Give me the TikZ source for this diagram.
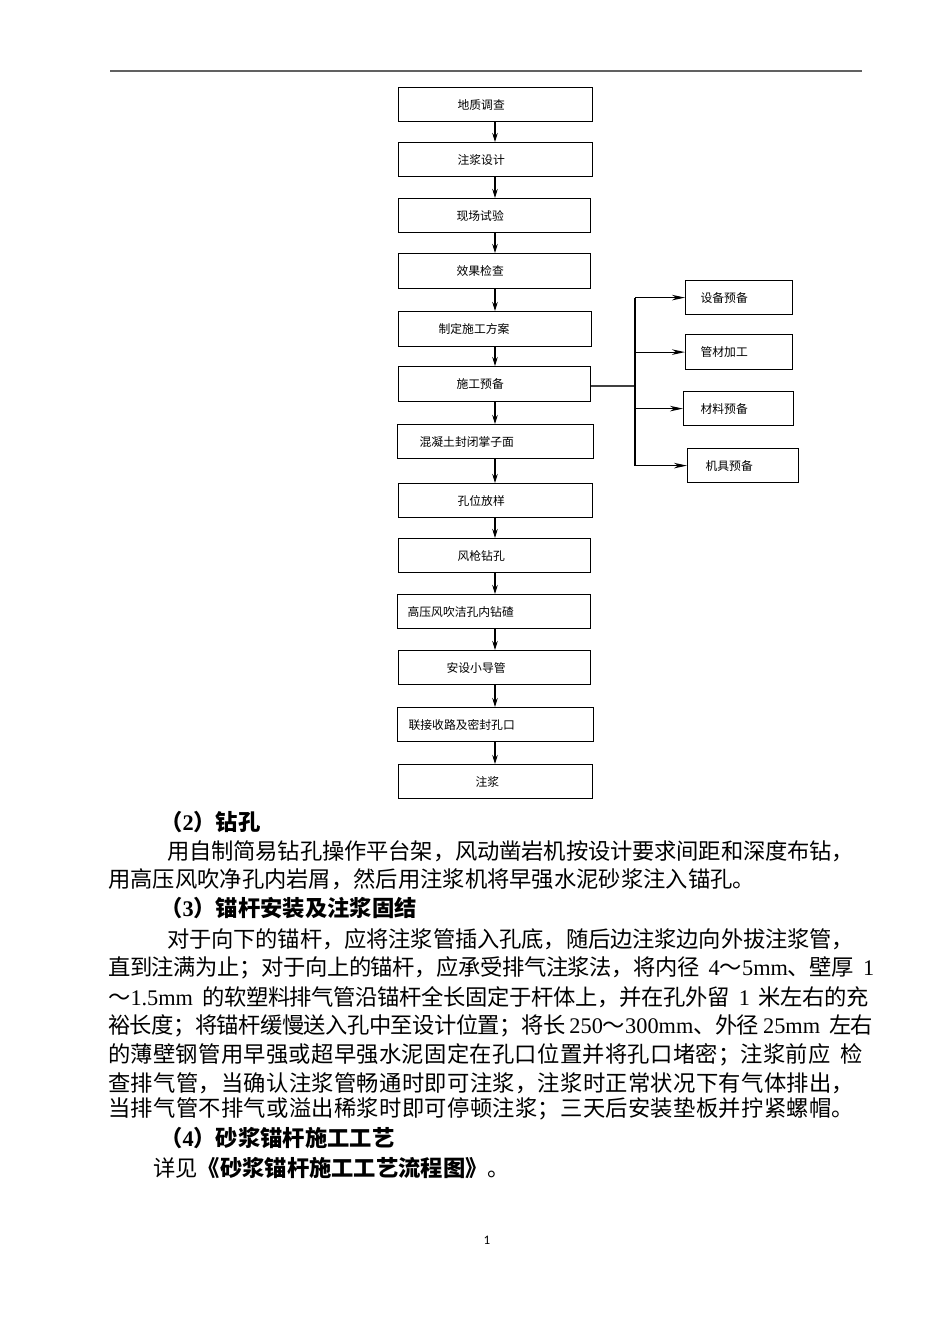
\documentclass[tikz,border=0pt]{standalone}
\usepackage{fontspec}
\setmainfont{Noto Sans CJK SC}
\newfontfamily\pagefont{Carlito}
\newfontfamily\latf{Liberation Serif}
\newcommand\lt[1]{{\latf #1}}
\usetikzlibrary{arrows.meta}
% inter-character stretch for justified lines
\newcount\cjkcc
\cjkcc="4E00
\loop\XeTeXcharclass\cjkcc=1 \advance\cjkcc by 1 \ifnum\cjkcc<"A000 \repeat
\XeTeXcharclass`，=3 \XeTeXcharclass`。=3 \XeTeXcharclass`；=3
\XeTeXcharclass`、=3 \XeTeXcharclass`：=3 \XeTeXcharclass`）=3
\XeTeXcharclass`》=3 \XeTeXcharclass`（=2 \XeTeXcharclass`《=2
\XeTeXcharclass`～=1
\def\jg{\hskip0pt plus 1fil minus 1pt\relax}
\XeTeXinterchartoks 1 1 = {\jg}
\XeTeXinterchartoks 1 2 = {\jg}
\XeTeXinterchartoks 1 3 = {\jg}
\XeTeXinterchartoks 2 1 = {\jg}
\XeTeXinterchartoks 3 1 = {\jg}
\XeTeXinterchartoks 3 2 = {\jg}
\XeTeXinterchartoks 3 3 = {\jg}
\XeTeXinterchartoks 2 2 = {\jg}
\XeTeXinterchartoks 0 1 = {\jg}
\XeTeXinterchartoks 1 0 = {\jg}
\XeTeXinterchartoks 0 3 = {\jg}
\XeTeXinterchartoks 3 0 = {\jg}
\XeTeXinterchartoks 0 2 = {\jg}
\XeTeXinterchartoks 2 0 = {\jg}
\newcommand\jl[2]{\makebox[#1pt][s]{\XeTeXinterchartokenstate=1 #2}}
\begin{document}
\begin{tikzpicture}[x=1pt,y=-1pt,
  box/.style={draw, line width=1.2pt, anchor=north west, inner sep=0pt, align=left,
    font=\fontsize{11.8}{14}\selectfont},
  arr/.style={-{Stealth[length=9pt,width=5.5pt]}, line width=1.1pt},
  harr/.style={-{Stealth[length=13pt,width=5.5pt,inset=4pt]}, line width=1.1pt},
  conn/.style={line width=1.1pt},
  txt/.style={anchor=west, inner sep=0pt, font=\fontsize{22.3}{26}\selectfont},
  head/.style={anchor=west, inner sep=0pt, font=\fontsize{22.3}{26}\selectfont\bfseries}]
\fill[white] (0,0) rectangle (950,1344);
\useasboundingbox (0,0) rectangle (950,1344);
% top rule
\coordinate (rl) at (110,71);
\coordinate (rr) at (862,71);
\draw[line width=2pt, black!62] (rl) -- (rr);
% main flow boxes
\node[box, minimum width=194pt, minimum height=34pt, text width=194pt] (b1) at (398,87) {\hspace*{59pt}地质调查};
\node[box, minimum width=194pt, minimum height=34pt, text width=194pt] (b2) at (398,142) {\hspace*{59pt}注浆设计};
\node[box, minimum width=192pt, minimum height=34pt, text width=192pt] (b3) at (398,198) {\hspace*{58pt}现场试验};
\node[box, minimum width=192pt, minimum height=35pt, text width=192pt] (b4) at (398,253) {\hspace*{58pt}效果检查};
\node[box, minimum width=193pt, minimum height=35pt, text width=193pt] (b5) at (398,311) {\hspace*{40pt}制定施工方案};
\node[box, minimum width=192pt, minimum height=35pt, text width=192pt] (b6) at (398,366) {\hspace*{58pt}施工预备};
\node[box, minimum width=196pt, minimum height=34pt, text width=196pt] (b7) at (397,424) {\hspace*{22pt}混凝土封闭掌子面};
\node[box, minimum width=194pt, minimum height=34pt, text width=194pt] (b8) at (398,483) {\hspace*{59pt}孔位放样};
\node[box, minimum width=192pt, minimum height=34pt, text width=192pt] (b9) at (398,538) {\hspace*{59pt}风枪钻孔};
\node[box, minimum width=193pt, minimum height=34pt, text width=193pt] (b10) at (397,594) {\hspace*{10pt}高压风吹洁孔内钻碴};
\node[box, minimum width=192pt, minimum height=34pt, text width=192pt] (b11) at (398,650) {\hspace*{48pt}安设小导管};
\node[box, minimum width=196pt, minimum height=34pt, text width=196pt] (b12) at (397,707) {\hspace*{11pt}联接收路及密封孔口};
\node[box, minimum width=194pt, minimum height=34pt, text width=194pt] (b13) at (398,764) {\hspace*{77pt}注浆};
% side boxes
\node[box, minimum width=107pt, minimum height=34pt, text width=107pt] (r1) at (685,280) {\hspace*{15pt}设备预备};
\node[box, minimum width=107pt, minimum height=35pt, text width=107pt] (r2) at (685,334) {\hspace*{15pt}管材加工};
\node[box, minimum width=110pt, minimum height=34pt, text width=110pt] (r3) at (683,391) {\hspace*{17pt}材料预备};
\node[box, minimum width=111pt, minimum height=34pt, text width=111pt] (r4) at (687,448) {\hspace*{18pt}机具预备};
% main arrows
\coordinate (ax) at (495,0);
\foreach \a/\b in {b1/b2,b2/b3,b3/b4,b4/b5,b5/b6,b6/b7,b7/b8,b8/b9,b9/b10,b10/b11,b11/b12,b12/b13}
  \draw[arr] (ax |- \a.south) -- (ax |- \b.north);
% branch
\coordinate (j) at (635,386);
\draw[conn, black!75] (b6.east |- j) -- (j);
\draw[conn] (j |- r1.west) -- (j |- r4.west);
\foreach \r in {r1,r2,r3,r4}
  \draw[harr] (j |- \r.west) -- (\r.west);
% body text
\node[head] (h2) at (160,822) {（\lt{2}）钻孔};
\node[txt] (p1) at (167,851) {\jl{687}{用自制简易钻孔操作平台架，风动凿岩机按设计要求间距和深度布钻，}};
\node[txt] (p2) at (108,879) {用高压风吹净孔内岩屑，然后用注浆机将早强水泥砂浆注入锚孔。};
\node[head] (h3) at (160,908) {（\lt{3}）锚杆安装及注浆固结};
\node[txt] (p3) at (167,939) {\jl{687}{对于向下的锚杆，应将注浆管插入孔底，随后边注浆边向外拔注浆管，}};
\node[txt] (p4) at (108,968) {\jl{766}{直到注满为止；对于向上的锚杆，应承受排气注浆法，将内径\hspace{9pt}\lt{4}～\lt{5mm}、壁厚\hspace{9pt}\lt{1}}};
\node[txt] (p5) at (108,997) {\jl{761}{～\lt{1.5mm}\hspace{9pt}的软塑料排气管沿锚杆全长固定于杆体上，并在孔外留\hspace{9pt}\lt{1}\hspace{9pt}米左右的充}};
\node[txt] (p6) at (108,1026) {\jl{765}{裕长度；将锚杆缓慢送入孔中至设计位置；将长\hspace{4pt}\lt{250}～\lt{300mm}、外径\hspace{4pt}\lt{25mm}\hspace{9pt}左右}};
\node[txt] (p7) at (108,1055) {\jl{755}{的薄壁钢管用早强或超早强水泥固定在孔口位置并将孔口堵密；注浆前应\hspace{10pt}检}};
\node[txt] (p8) at (108,1083) {\jl{746}{查排气管，当确认注浆管畅通时即可注浆，注浆时正常状况下有气体排出，}};
\node[txt] (p9) at (108,1109) {\jl{746}{当排气管不排气或溢出稀浆时即可停顿注浆；三天后安装垫板并拧紧螺帽。}};
\node[head] (h4) at (160,1138) {（\lt{4}）砂浆锚杆施工工艺};
\node[txt] (p10) at (153,1168) {详见{\bfseries《砂浆锚杆施工工艺流程图》}。};
% page number
\node[inner sep=0pt, font=\pagefont\fontsize{13}{15}\selectfont] (pg) at (487,1240) {1};
\end{tikzpicture}
\end{document}
